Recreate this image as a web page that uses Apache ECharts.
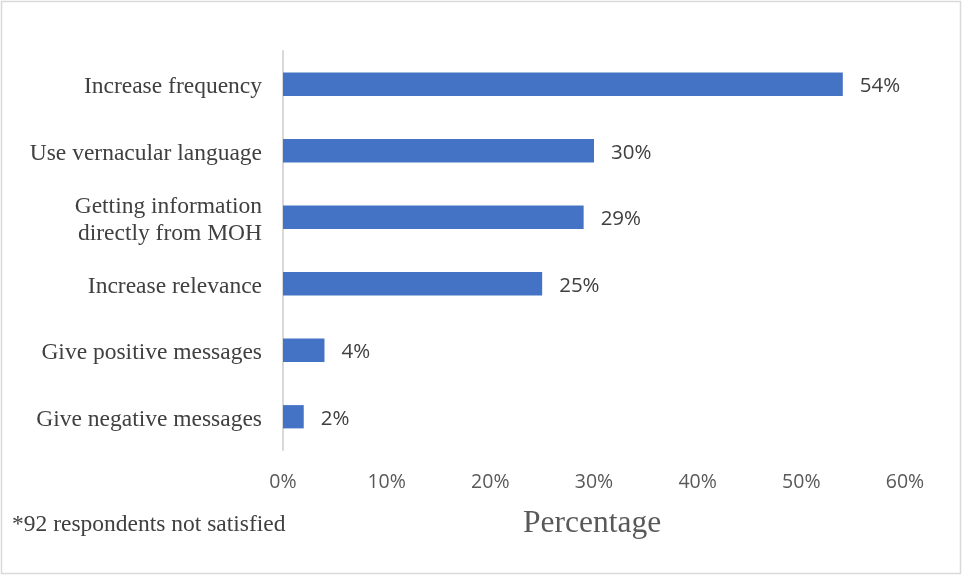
<!DOCTYPE html>
<html>
<head>
<meta charset="utf-8">
<script src="https://cdn.jsdelivr.net/npm/echarts@6/dist/echarts.min.js"></script>
<style>
  html, body { margin: 0; padding: 0; background: #fff; }
  #chart { width: 963px; height: 575px; }
</style>
</head>
<body>
<div id="chart"></div>
<script>
// Suggestions for improving health messages (share of respondents)
const categories = [
  'Give negative messages',
  'Give positive messages',
  'Increase relevance',
  'Getting information\ndirectly from MOH',
  'Use vernacular language',
  'Increase frequency'
];
const percentages = [2, 4, 25, 29, 30, 54];
const xTicks = [0, 10, 20, 30, 40, 50, 60];
const noteText = '*92 respondents not satisfied';
const axisTitle = 'Percentage';

const chart = echarts.init(document.getElementById('chart'), null, { renderer: 'canvas' });

const serifFont = 'Liberation Serif, Times New Roman, serif';

chart.setOption({
  animation: false,
  backgroundColor: '#ffffff',
  grid: { left: 283, right: 58, top: 51, bottom: 125, containLabel: false },
  xAxis: {
    type: 'value',
    min: xTicks[0],
    max: xTicks[xTicks.length - 1],
    interval: xTicks[1] - xTicks[0],
    axisLine: { show: false },
    axisTick: { show: false },
    splitLine: { show: false },
    axisLabel: {
      formatter: v => v + '%',
      color: '#595959',
      fontFamily: 'Open Sans, Liberation Sans, sans-serif',
      fontSize: 19.5,
      margin: 22
    }
  },
  yAxis: {
    type: 'category',
    data: categories,
    axisLine: { show: true, lineStyle: { color: '#d9d9d9', width: 2 } },
    axisTick: { show: false },
    axisLabel: {
      margin: 21,
      align: 'right',
      // a thin empty first line nudges the label text slightly downward
      formatter: v => '{gap| }\n' + v.split('\n').map(s => '{txt|' + s + '}').join('\n'),
      rich: {
        gap: { fontSize: 4, lineHeight: 6 },
        txt: {
          color: '#404040',
          fontFamily: serifFont,
          fontSize: 23.5,
          lineHeight: 27,
          align: 'right'
        }
      }
    }
  },
  series: [{
    type: 'bar',
    data: percentages,
    barCategoryGap: '65%',
    itemStyle: { color: '#4472c4' },
    label: {
      show: true,
      position: 'right',
      distance: 17,
      offset: [0, 2],
      formatter: p => p.value + '%',
      color: '#404040',
      fontFamily: 'Open Sans, Liberation Sans, sans-serif',
      fontSize: 20.5
    }
  }],
  graphic: [
    {
      type: 'rect',
      shape: { x: 1.5, y: 1.5, width: 959, height: 572 },
      style: { fill: 'none', stroke: '#d9d9d9', lineWidth: 1.5 },
      silent: true
    },
    {
      type: 'text',
      left: 12,
      top: 513,
      style: {
        text: noteText,
        fill: '#404040',
        font: '23.5px "Liberation Serif", "Times New Roman", serif'
      }
    },
    {
      type: 'text',
      left: 523,
      top: 508,
      style: {
        text: axisTitle,
        fill: '#595959',
        font: '31.5px "Liberation Serif", "Times New Roman", serif'
      }
    }
  ]
});
</script>
</body>
</html>
